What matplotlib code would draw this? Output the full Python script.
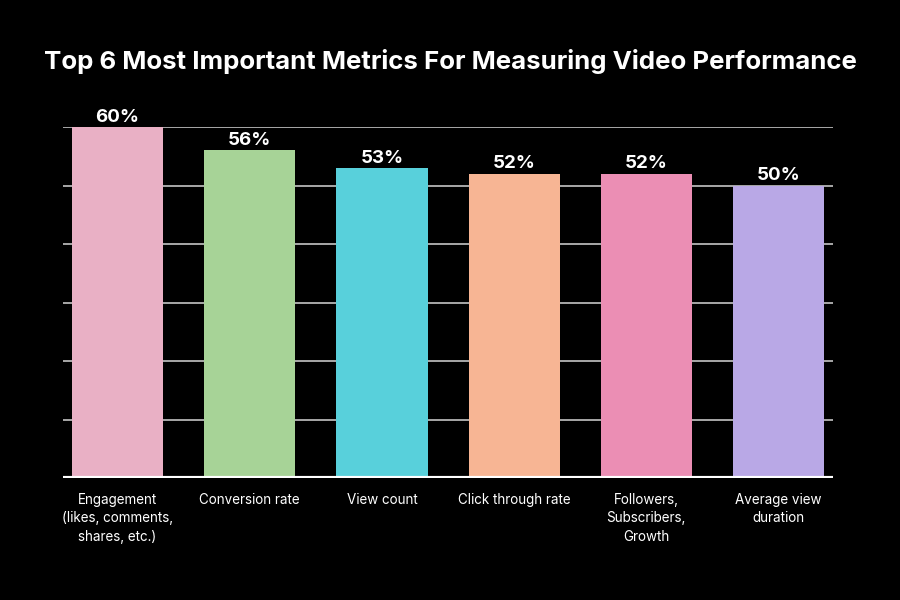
import matplotlib.pyplot as plt
import numpy as np

# data
metrics = [
    "Engagement\n(likes, comments,\nshares, etc.)",
    "Conversion rate",
    "View count",
    "Click through rate",
    "Followers,\nSubscribers,\nGrowth",
    "Average view\nduration",
]
shares = [60, 56, 53, 52, 52, 50]
colors = ["#E9B0C5", "#A7D397", "#58D0DB", "#F7B594", "#EB8EB4", "#B9A8E6"]

fig = plt.figure(figsize=(9, 6), dpi=100, facecolor="black")
ax = fig.add_axes([0.07, 0.2033, 0.8556, 0.585])
ax.set_facecolor("black")

x_pos = np.arange(len(metrics))
ax.bar(x_pos, shares, width=0.69, color=colors, zorder=3)

# grid lines every 10%
for yv in range(10, 61, 10):
    ax.axhline(yv, color="#c4c4c4", lw=1.2, zorder=1)
ax.axhline(0, color="white", lw=3, zorder=4)

# value labels
for xi, v in zip(x_pos, shares):
    ax.annotate(f"{v}%", xy=(xi, v), xytext=(0, 1), textcoords="offset points",
                ha="center", va="bottom", color="white", fontsize=13.5,
                fontweight="bold", family="Inter")

ax.set_xlim(-0.413, 5.413)
ax.set_ylim(0, 60)
ax.set_yticks([])
ax.set_xticks(x_pos)
ax.set_xticklabels(metrics, color="white", fontsize=9.7, family="Inter",
                   linespacing=1.38)
ax.tick_params(axis="x", length=0, pad=11)
for s in ax.spines.values():
    s.set_visible(False)

fig.text(0.5, 0.897, "Top 6 Most Important Metrics For Measuring Video Performance",
         ha="center", va="center", color="white", fontsize=18.6,
         fontweight="bold", family="Inter")

fig.savefig("out.png", facecolor="black")
